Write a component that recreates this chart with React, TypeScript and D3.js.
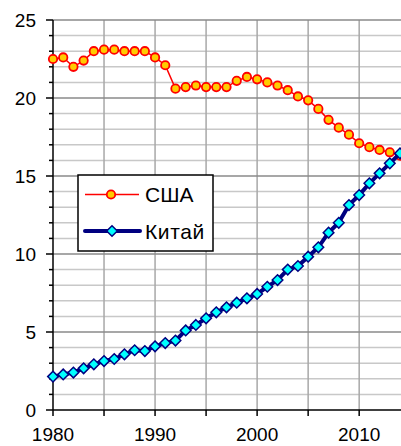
import React from "react";
import * as d3 from "d3";

const years: number[] = d3.range(1980, 2015);
const usaValues: number[] = [
  22.5, 22.6, 22.0, 22.4, 23.0, 23.1, 23.1, 23.0, 23.0, 23.0,
  22.6, 22.1, 20.6, 20.7, 20.8, 20.7, 20.7, 20.7, 21.1, 21.35,
  21.2, 21.0, 20.8, 20.5, 20.1, 19.85, 19.3, 18.6, 18.1, 17.65,
  17.1, 16.85, 16.67, 16.52, 16.3,
];
const chinaValues: number[] = [
  2.14, 2.28, 2.4, 2.67, 2.93, 3.14, 3.27, 3.57, 3.83, 3.78,
  4.08, 4.29, 4.45, 5.1, 5.45, 5.88, 6.26, 6.58, 6.88, 7.16,
  7.44, 7.9, 8.33, 9.0, 9.23, 9.83, 10.43, 11.37, 12.0, 13.14,
  13.78, 14.53, 15.17, 15.81, 16.45,
];
const xTickLabels: number[] = [1980, 1990, 2000, 2010];
const yTickLabels: number[] = [0, 5, 10, 15, 20, 25];
const seriesNames: string[] = ["США", "Китай"];

const W = 401;
const H = 446;
const left = 53;
const right = 400;
const top = 20;
const bottom = 410;

export default function App() {
  const x = d3.scaleLinear().domain([1980, 2014]).range([left, right]);
  const y = d3.scaleLinear().domain([0, 25]).range([bottom, top]);
  const line = d3
    .line<[number, number]>()
    .x((d) => x(d[0]))
    .y((d) => y(d[1]));
  const usa: [number, number][] = years.map((yr, i) => [yr, usaValues[i]]);
  const china: [number, number][] = years.map((yr, i) => [yr, chinaValues[i]]);
  const minor = d3.range(1, 25).filter((v) => v % 5 !== 0);
  const major = d3.range(5, 26, 5);
  const vgrid = d3.range(1985, 2015, 5);
  const xticks = d3.range(1980, 2015, 5);
  const font = "'Liberation Sans', Arial, sans-serif";
  const diamond = (cx: number, cy: number, r: number) =>
    `M${cx},${cy - r}L${cx + r},${cy}L${cx},${cy + r}L${cx - r},${cy}Z`;

  return (
    <svg
      width={W}
      height={H}
      style={{ position: "absolute", left: 0, top: 0, background: "#fff" }}
      fontFamily={font}
    >
      {minor.map((v) => (
        <line key={"mi" + v} x1={left} x2={W} y1={y(v)} y2={y(v)} stroke="#c8c8c8" strokeWidth={1.5} />
      ))}
      {vgrid.map((v) => (
        <line key={"vg" + v} x1={x(v)} x2={x(v)} y1={top} y2={bottom} stroke="#a8a8a8" strokeWidth={1.5} />
      ))}
      {major.map((v) => (
        <line key={"ma" + v} x1={left} x2={W} y1={y(v)} y2={y(v)} stroke="#8a8a8a" strokeWidth={1.5} />
      ))}
      <line x1={left} x2={left} y1={top} y2={bottom} stroke="#000" strokeWidth={1.5} />
      <line x1={left} x2={W} y1={bottom} y2={bottom} stroke="#000" strokeWidth={1.5} />
      {d3.range(0, 26).map((v) => (
        <line key={"yt" + v} x1={left - (v % 5 === 0 ? 7 : 4)} x2={left} y1={y(v)} y2={y(v)} stroke="#000" strokeWidth={1.5} />
      ))}
      {xticks.map((v) => (
        <line key={"xt" + v} x1={x(v)} x2={x(v)} y1={bottom} y2={bottom + 6} stroke="#000" strokeWidth={1.5} />
      ))}
      {yTickLabels.map((v) => (
        <text key={"yl" + v} x={36} y={y(v)} dy="0.35em" textAnchor="end" fontSize={19} fill="#000">
          {v}
        </text>
      ))}
      {xTickLabels.map((v) => (
        <text key={"xl" + v} x={x(v)} y={441} textAnchor="middle" fontSize={19} fill="#000">
          {v}
        </text>
      ))}
      <path d={line(usa) || ""} fill="none" stroke="#ff0000" strokeWidth={1.5} />
      {usa.map((d, i) => (
        <circle key={"u" + i} cx={x(d[0])} cy={y(d[1])} r={4.2} fill="#ffcc00" stroke="#ff0000" strokeWidth={1.8} />
      ))}
      <path d={line(china) || ""} fill="none" stroke="#000080" strokeWidth={4} />
      {china.map((d, i) => (
        <path key={"c" + i} d={diamond(x(d[0]), y(d[1]), 5.3)} fill="#00ffff" stroke="#000080" strokeWidth={1.5} />
      ))}
      <rect x={78} y={175} width={135} height={76} fill="#fff" stroke="#000" strokeWidth={1.5} />
      <line x1={85} x2={139} y1={194.5} y2={194.5} stroke="#ff0000" strokeWidth={1.5} />
      <circle cx={111} cy={194.5} r={4.2} fill="#ffcc00" stroke="#ff0000" strokeWidth={1.8} />
      <text x={145} y={202} fontSize={21} fill="#000">{seriesNames[0]}</text>
      <line x1={85} x2={140} y1={231} y2={231} stroke="#000080" strokeWidth={4} strokeLinecap="round" />
      <path d={diamond(112, 231, 5.3)} fill="#00ffff" stroke="#000080" strokeWidth={1.5} />
      <text x={145} y={239} fontSize={21} fill="#000" letterSpacing={0.6}>{seriesNames[1]}</text>
    </svg>
  );
}
